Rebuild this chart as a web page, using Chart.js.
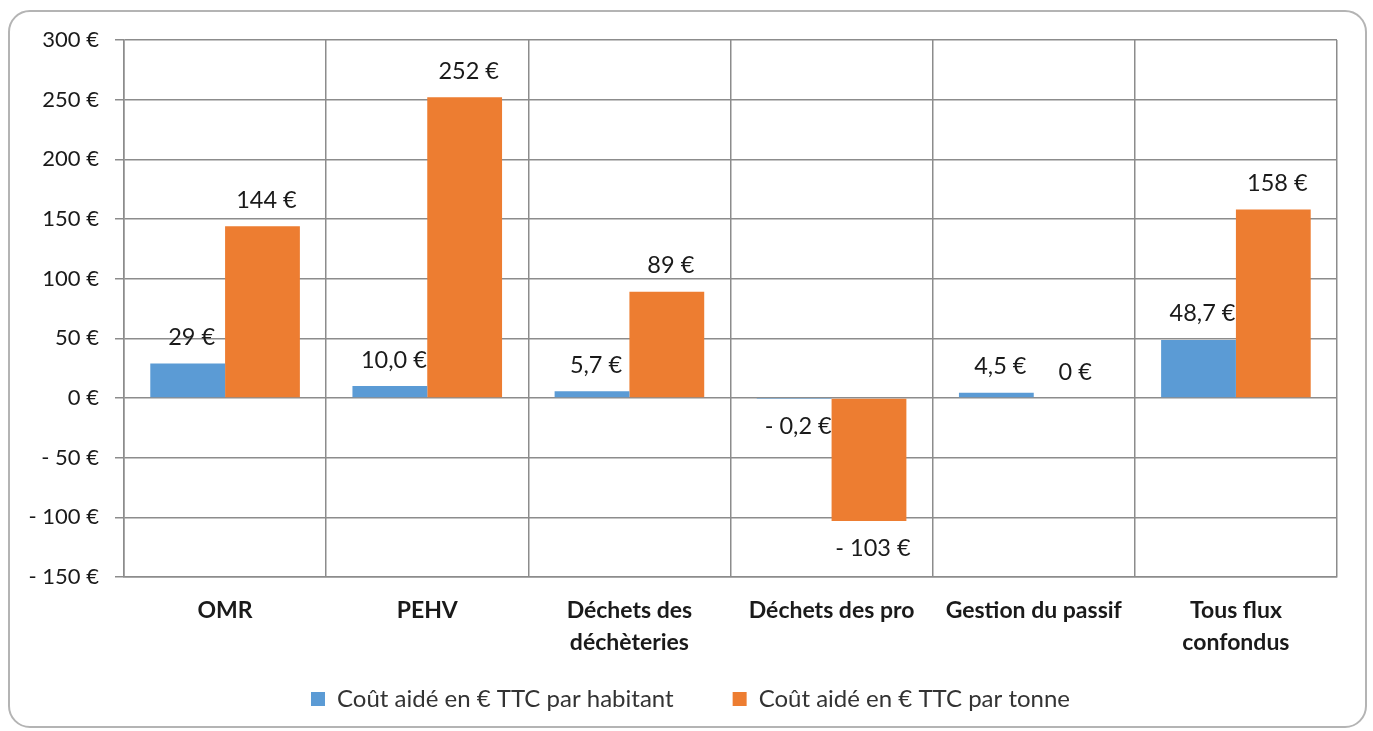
<!DOCTYPE html>
<html>
<head>
<meta charset="utf-8">
<script src="https://cdn.jsdelivr.net/npm/chart.js@4/dist/chart.umd.min.js"></script>
<style>
  html, body { margin: 0; padding: 0; background: #fff; }
  #wrap { position: relative; width: 1373px; height: 731px; }
  #frame { position: absolute; left: 8px; top: 10px; width: 1359px; height: 718px;
           border: 2px solid #b4b4b4; border-radius: 22px; box-sizing: border-box; }
  canvas { position: absolute; left: 0; top: 0; }
</style>
</head>
<body>
<div id="wrap">
  <div id="frame"></div>
  <canvas id="costChart" width="1373" height="731"></canvas>
</div>
<script>
const categories = [['OMR'], ['PEHV'], ['Déchets des', 'déchèteries'], ['Déchets des pro'], ['Gestion du passif'], ['Tous flux', 'confondus']];
const perInhabitant = [29, 10.0, 5.7, -0.2, 4.5, 48.7];
const perTonne = [144, 252, 89, -103, 0, 158];
const inhabitantLabels = ['29 €', '10,0 €', '5,7 €', '- 0,2 €', '4,5 €', '48,7 €'];
const tonneLabels = ['144 €', '252 €', '89 €', '- 103 €', '0 €', '158 €'];
const yTicks = { min: -150, max: 300, step: 50 };

const FONT = 'Lato, "Open Sans", sans-serif';

// draws the value labels just outside the bar ends
const valueLabels = {
  id: 'valueLabels',
  afterDatasetsDraw(chart) {
    const ctx = chart.ctx;
    const texts = [inhabitantLabels, tonneLabels];
    ctx.save();
    ctx.font = '23.5px ' + FONT;
    ctx.fillStyle = '#1a1a1a';
    ctx.textAlign = 'center';
    ctx.textBaseline = 'middle';
    chart.data.datasets.forEach((ds, i) => {
      chart.getDatasetMeta(i).data.forEach((bar, j) => {
        const neg = ds.data[j] < 0;
        const y = neg ? bar.y + 28 : bar.y - 26;
        ctx.fillText(texts[i][j], bar.x + 4, y);
      });
    });
    ctx.restore();
  }
};

// legend sits centred on the whole frame, not on the padded area
const legendShift = {
  id: 'legendShift',
  afterLayout(chart) {
    chart.legend.left += 22;
    chart.legend.right += 22;
  }
};

new Chart(document.getElementById('costChart'), {
  type: 'bar',
  data: {
    labels: categories,
    datasets: [
      {
        label: 'Coût aidé en € TTC par habitant',
        data: perInhabitant,
        backgroundColor: '#5b9bd5',
        borderWidth: 0
      },
      {
        label: 'Coût aidé en € TTC par tonne',
        data: perTonne,
        backgroundColor: '#ed7d31',
        borderWidth: 0
      }
    ]
  },
  options: {
    responsive: false,
    animation: false,
    layout: { padding: { top: 40, right: 36, left: 0, bottom: 10 } },
    datasets: { bar: { categoryPercentage: 0.74, barPercentage: 1.0 } },
    scales: {
      x: {
        grid: { offset: true, color: '#8c8c8c', lineWidth: 1.5, drawTicks: false },
        border: { color: '#8c8c8c', width: 1.5 },
        ticks: { font: { size: 23, weight: 'bold', family: FONT, lineHeight: 1.4 }, color: '#1a1a1a', padding: 17, maxRotation: 0 },
        afterFit(scale) { scale.height = 90; }
      },
      y: {
        min: yTicks.min,
        max: yTicks.max,
        ticks: {
          stepSize: yTicks.step,
          font: { size: 22, family: FONT },
          color: '#1a1a1a',
          padding: 16,
          callback: v => (v < 0 ? '- ' + Math.abs(v) : v) + ' €'
        },
        grid: { color: '#8c8c8c', lineWidth: 1.5, tickLength: 9 },
        border: { color: '#8c8c8c', width: 1.5 },
        afterFit(scale) { scale.width = 124; }
      }
    },
    plugins: {
      legend: {
        position: 'bottom',
        labels: {
          boxWidth: 14, boxHeight: 14, padding: 20, color: '#333',
          font: { size: 24, family: FONT },
          generateLabels(chart) {
            const items = Chart.defaults.plugins.legend.labels.generateLabels(chart);
            items[0].text += '\u2003\u2003\u2009';
            return items;
          }
        }
      },
      tooltip: { enabled: false }
    }
  },
  plugins: [valueLabels, legendShift]
});
</script>
</body>
</html>
